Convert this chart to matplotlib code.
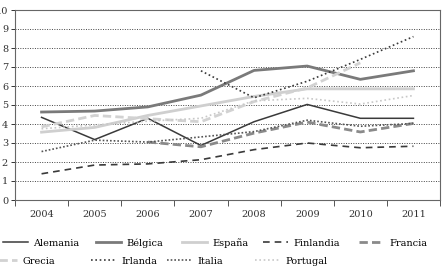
import numpy as np
import matplotlib
matplotlib.use("Agg")
import matplotlib.pyplot as plt

plt.rcParams["font.family"] = "DejaVu Serif"
plt.rcParams["font.size"] = 7

years = ["2004", "2005", "2006", "2007", "2008", "2009", "2010", "2011"]

alemania = [4.35, 3.18, 4.30, 2.87, 4.12, 5.03, 4.30, 4.30]
belgica = [4.63, 4.68, 4.90, 5.52, 6.82, 7.05, 6.35, 6.80]
espana = [3.57, 3.82, 4.45, 4.95, 5.45, 5.85, 5.85, 5.85]
finlandia = [1.38, 1.84, 1.90, 2.12, 2.65, 3.00, 2.75, 2.83]
francia = [np.nan, np.nan, 3.05, 2.80, 3.52, 4.10, 3.58, 4.03]
grecia = [3.85, 4.45, 4.28, 4.12, 5.18, 5.90, 7.22, np.nan]
irlanda = [np.nan, np.nan, np.nan, 6.80, 5.38, 6.25, 7.40, 8.60]
italia = [2.55, 3.15, 3.05, 3.32, 3.60, 4.20, 3.88, 4.03]
portugal = [3.75, 3.95, 4.15, 4.30, 5.22, 5.35, 5.05, 5.50]

# name, values, color, linewidth, linestyle
series = [
    ("Alemania", alemania, "#3a3a3a", 1.1, "-"),
    ("Bélgica", belgica, "#7a7a7a", 2.0, "-"),
    ("España", espana, "#cfcfcf", 2.0, "-"),
    ("Finlandia", finlandia, "#3a3a3a", 1.2, (0, (4, 3))),
    ("Francia", francia, "#8a8a8a", 2.0, (0, (3, 1.5))),
    ("Grecia", grecia, "#d2d2d2", 2.0, (0, (3, 1.5))),
    ("Irlanda", irlanda, "#3a3a3a", 1.2, (0, (1, 1.6))),
    ("Italia", italia, "#555555", 1.2, (0, (1, 1.2))),
    ("Portugal", portugal, "#c8c8c8", 1.2, (0, (1, 1.6))),
]

# legend layout: (left pixel of the handle, row centre pixel) per entry
legend_pos = [(3, 243), (96, 243), (182, 243), (263, 243), (359, 243),
              (-8, 261), (91, 261), (167, 261), (255, 261)]

fig = plt.figure(figsize=(4.43, 2.67), dpi=100)
ax = fig.add_axes([15 / 443, 1 - 200 / 267, 425 / 443, 190 / 267])

x = np.arange(len(years))
handles = []
for name, vals, color, lw, ls in series:
    (ln,) = ax.plot(x, vals, color=color, lw=lw, ls=ls, label=name)
    handles.append(ln)

ax.set_xlim(-0.5, len(years) - 0.5)
ax.set_ylim(0, 10)
ax.set_yticks(range(0, 11))
ax.set_xticks(x)
ax.set_xticklabels(years)
ax.set_xticks(np.arange(len(years) + 1) - 0.5, minor=True)
ax.tick_params(axis="x", which="major", length=0, pad=7, colors="#333333")
ax.tick_params(axis="x", which="minor", length=4, width=0.7, color="#555555")
ax.tick_params(axis="y", length=3, width=0.7, pad=2, colors="#333333")

for y in range(1, 10):
    ax.axhline(y, color="#444444", lw=0.7, ls=(0, (1, 1.5)), zorder=0)

for sp in ax.spines.values():
    sp.set_color("#666666")
    sp.set_linewidth(0.8)

# one small legend per entry so the flowing layout of the original can be kept
for h, (name, *_), (px, py) in zip(handles, series, legend_pos):
    fig.legend([h], [name], loc="center left",
               bbox_to_anchor=(px / 443, 1 - py / 267),
               frameon=False, handlelength=2.6, handletextpad=0.5,
               borderaxespad=0, borderpad=0, fontsize=7)

fig.savefig("out.png", dpi=100)
